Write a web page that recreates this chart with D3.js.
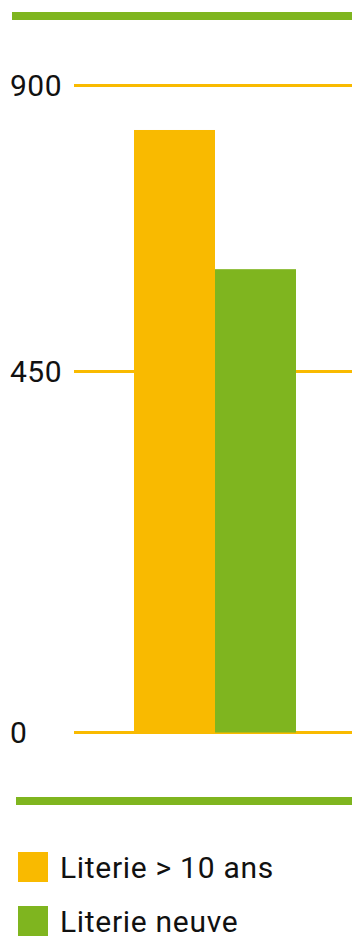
<!DOCTYPE html>
<html>
<head>
<meta charset="utf-8">
<script src="https://cdn.jsdelivr.net/npm/d3@7"></script>
<style>
  html, body { margin: 0; padding: 0; background: #fff; }
  svg { display: block; }
  text { font-family: Roboto, "Noto Sans", sans-serif; fill: #111; }
</style>
</head>
<body>
<script>
const categories = ["Literie"];
const seriesNames = ["Literie > 10 ans", "Literie neuve"];
const seriesValues = [830, 611];
const tickValues = [0, 450, 900];
const tickLabels = ["0", "450", "900"];
const colors = ["#F9BA00", "#7FB51F"];

const W = 352, H = 937;
const svg = d3.select("body").append("svg").attr("width", W).attr("height", H);

// Decorative rules
svg.append("rect").attr("x", 12).attr("y", 12).attr("width", W - 12).attr("height", 8).attr("fill", colors[1]);
svg.append("rect").attr("x", 16).attr("y", 797).attr("width", W - 16).attr("height", 8).attr("fill", colors[1]);

const y = d3.scaleLinear().domain(tickValues).range([732.5, 371.5, 85.5]);
const x0 = d3.scaleBand().domain(categories).range([134, 296]).padding(0);
const x1 = d3.scaleBand().domain(seriesNames).range([0, x0.bandwidth()]).padding(0);

// Gridlines
svg.append("g").selectAll("line").data(tickValues).join("line")
  .attr("x1", 74).attr("x2", W)
  .attr("y1", d => y(d)).attr("y2", d => y(d))
  .attr("stroke", colors[0]).attr("stroke-width", 3);

// Tick labels
svg.append("g").selectAll("text").data(tickValues).join("text")
  .attr("x", 10).attr("y", d => y(d))
  .attr("dy", "0.36em")
  .attr("font-size", 30)
  .attr("letter-spacing", 0.5)
  .text((d, i) => tickLabels[i]);

// Bars
const g = svg.append("g").selectAll("g").data(categories).join("g")
  .attr("transform", d => `translate(${x0(d)},0)`);
g.selectAll("rect").data(seriesNames.map((n, i) => ({ n, v: seriesValues[i], c: colors[i] }))).join("rect")
  .attr("x", d => x1(d.n))
  .attr("width", x1.bandwidth())
  .attr("y", d => y(d.v))
  .attr("height", d => y(0) - y(d.v))
  .attr("fill", d => d.c);

// Legend
const leg = svg.append("g").selectAll("g").data(seriesNames).join("g")
  .attr("transform", (d, i) => `translate(18,${852 + i * 54})`);
leg.append("rect").attr("width", 30).attr("height", 30).attr("fill", (d, i) => colors[i]);
leg.append("text").attr("x", 42).attr("y", 15).attr("dy", "0.36em")
  .attr("font-size", 30).attr("letter-spacing", 0.7).text(d => d);
</script>
</body>
</html>
